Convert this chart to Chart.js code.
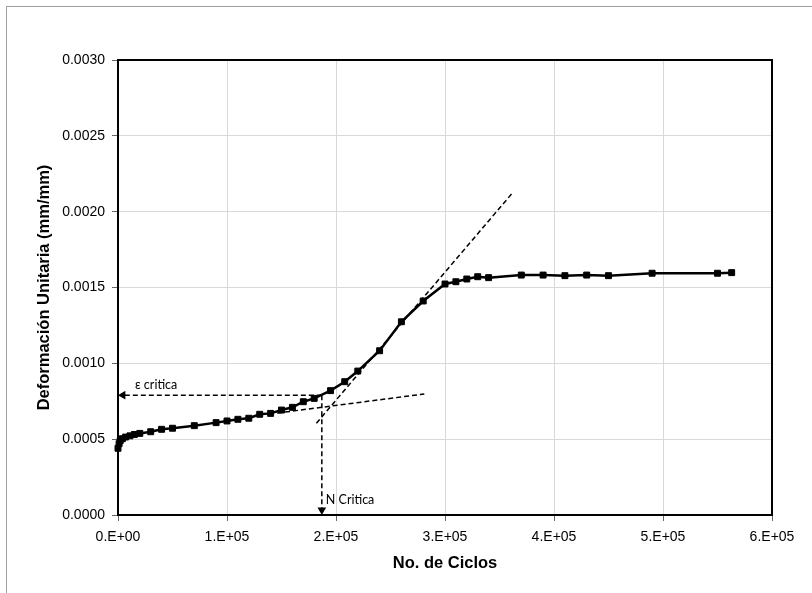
<!DOCTYPE html>
<html>
<head>
<meta charset="utf-8">
<script src="https://cdn.jsdelivr.net/npm/chart.js@4.4.1/dist/chart.umd.min.js"></script>
<style>
  html, body { margin: 0; padding: 0; background: #fff; }
  #frame { position: absolute; left: 6px; top: 6px; width: 900px; height: 700px; border: 1px solid #a0a0a0; }
  #chart { position: absolute; left: 0; top: 0; }
</style>
</head>
<body>
<div id="frame"></div>
<canvas id="chart" width="812" height="593"></canvas>
<script>
// measured curve
const cycles = [0, 1000, 2000, 4000, 7000, 11000, 15000, 20000, 30000, 40000,
  50000, 70000, 90000, 100000, 110000, 120000, 130000, 140000, 150000, 160000,
  170000, 180000, 195000, 208000, 220000, 240000, 260000, 280000, 300000, 310000,
  320000, 330000, 340000, 370000, 390000, 410000, 430000, 450000, 490000, 550000, 563000];
const strain = [0.00044, 0.00047, 0.00049, 0.000503, 0.000514, 0.000522, 0.000531, 0.000538, 0.000549, 0.000565,
  0.000572, 0.000589, 0.000609, 0.000620, 0.000631, 0.000638, 0.000664, 0.000670, 0.000692, 0.000710,
  0.000747, 0.000769, 0.000820, 0.000879, 0.000949, 0.001083, 0.001274, 0.001411, 0.001523, 0.001538,
  0.001556, 0.001571, 0.001565, 0.001582, 0.001582, 0.001578, 0.001582, 0.001578, 0.001594, 0.001594, 0.001598];

// tangent lines
const lowTangentX = [146000, 281000];
const lowTangentY = [0.000672, 0.000798];
const steepTangentX = [182000, 361000];
const steepTangentY = [0.000605, 0.002116];

// critical point arrows
const critN = 187000;
const critStrain = 0.00079;
const hArrowX = [critN, 4500];
const hArrowY = [critStrain, critStrain];
const vArrowX = [critN, critN];
const vArrowY = [critStrain, 0.000033];

const xTickLabels = ['0.E+00', '1.E+05', '2.E+05', '3.E+05', '4.E+05', '5.E+05', '6.E+05'];
const yTickLabels = ['0.0000', '0.0005', '0.0010', '0.0015', '0.0020', '0.0025', '0.0030'];
const strainLabel = 'ε critica';
const cycleLabel = 'N Critica';

const pts = (xs, ys) => xs.map((x, i) => ({ x: x, y: ys[i] }));

const dashed = {
  showLine: true,
  borderColor: '#000',
  borderWidth: 1.5,
  borderDash: [5, 3],
  pointRadius: 0,
  clip: false
};

const frameAndLabels = {
  id: 'frameAndLabels',
  beforeDatasetsDraw(chart) {
    const { ctx, chartArea: a } = chart;
    ctx.save();
    ctx.strokeStyle = '#000';
    ctx.lineWidth = 2;
    ctx.strokeRect(a.left, a.top, a.right - a.left, a.bottom - a.top);
    ctx.restore();
  },
  afterDatasetsDraw(chart) {
    const { ctx, scales: { x, y } } = chart;
    ctx.save();
    ctx.fillStyle = '#000';
    ctx.font = '12.5px Lato, "Open Sans", sans-serif';
    ctx.textBaseline = 'middle';
    ctx.fillText(strainLabel, x.getPixelForValue(0) + 17, y.getPixelForValue(critStrain) - 10);
    ctx.fillText(cycleLabel, x.getPixelForValue(critN) + 4, y.getPixelForValue(0) - 15);
    ctx.restore();
  }
};

const axisFont = { family: '"Liberation Sans", Arial, sans-serif', size: 14 };
const titleFont = { family: '"Liberation Sans", Arial, sans-serif', size: 16.5, weight: 'bold' };

new Chart(document.getElementById('chart'), {
  type: 'scatter',
  data: {
    datasets: [
      Object.assign({}, dashed, { data: pts(lowTangentX, lowTangentY) }),
      Object.assign({}, dashed, { data: pts(steepTangentX, steepTangentY) }),
      Object.assign({}, dashed, {
        data: pts(hArrowX, hArrowY),
        pointRadius: [0, 5],
        pointStyle: 'triangle',
        pointRotation: [0, 270],
        pointBackgroundColor: '#000',
        pointBorderColor: '#000',
        pointBorderWidth: 0
      }),
      Object.assign({}, dashed, {
        data: pts(vArrowX, vArrowY),
        pointRadius: [0, 5],
        pointStyle: 'triangle',
        pointRotation: [0, 180],
        pointBackgroundColor: '#000',
        pointBorderColor: '#000',
        pointBorderWidth: 0
      }),
      {
        data: pts(cycles, strain),
        showLine: true,
        borderColor: '#000',
        borderWidth: 2.5,
        pointStyle: 'rect',
        pointRadius: 4.2,
        pointBorderWidth: 1,
        pointBackgroundColor: '#000',
        pointBorderColor: '#000',
        tension: 0,
        clip: false
      }
    ]
  },
  options: {
    responsive: false,
    animation: false,
    events: [],
    layout: { padding: { top: 60, right: 40, left: 0, bottom: 0 } },
    plugins: {
      legend: { display: false },
      tooltip: { enabled: false }
    },
    scales: {
      x: {
        type: 'linear',
        min: 0,
        max: 600000,
        afterFit: (s) => { s.height = 78; },
        border: { display: true, color: '#000', width: 2 },
        grid: { color: '#d9d9d9', lineWidth: 1, tickLength: 6, tickColor: '#666' },
        ticks: {
          stepSize: 100000,
          autoSkip: false,
          maxRotation: 0,
          padding: 8,
          color: '#000',
          font: axisFont,
          callback: (v, i) => xTickLabels[i]
        },
        title: {
          display: true,
          text: 'No. de Ciclos',
          color: '#000',
          font: titleFont,
          padding: { top: 0, bottom: 20 }
        }
      },
      y: {
        type: 'linear',
        min: 0,
        max: 0.003,
        afterFit: (s) => { s.width = 118; },
        border: { display: true, color: '#000', width: 2 },
        grid: { color: '#d9d9d9', lineWidth: 1, tickLength: 6, tickColor: '#666' },
        ticks: {
          stepSize: 0.0005,
          autoSkip: false,
          padding: 7,
          color: '#000',
          font: axisFont,
          callback: (v, i) => yTickLabels[i]
        },
        title: {
          display: true,
          text: 'Deformación Unitaria (mm/mm)',
          color: '#000',
          font: titleFont,
          padding: { top: 35, bottom: 0 }
        }
      }
    }
  },
  plugins: [frameAndLabels]
});
</script>
</body>
</html>
